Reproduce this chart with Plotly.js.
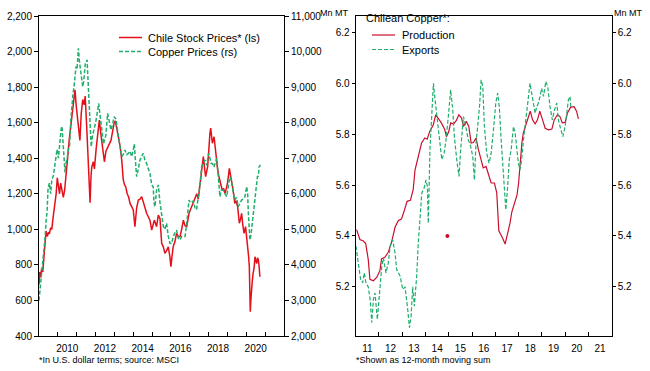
<!DOCTYPE html>
<html>
<head>
<meta charset="utf-8">
<script src="https://cdn.plot.ly/plotly-3.0.1.min.js"></script>
<style>html,body{margin:0;padding:0;background:#fff;}#chart{width:650px;height:371px;}</style>
</head>
<body>
<div id="chart"></div>
<script>
// ---------- Left panel: Chile stock prices (ls) & copper prices (rs) ----------
const stockYears = [2009.00,2009.04,2009.09,2009.14,2009.20,2009.25,2009.32,2009.38,2009.44,2009.50,2009.55,2009.62,2009.68,2009.74,2009.80,2009.86,2009.91,2009.97,
2010.03,2010.09,2010.15,2010.22,2010.29,2010.36,2010.43,2010.50,2010.60,2010.70,2010.79,2010.86,2010.91,2010.97,
2011.05,2011.11,2011.17,2011.24,2011.32,2011.40,2011.45,2011.53,2011.62,2011.67,2011.71,2011.76,2011.80,2011.88,2011.94,
2012.03,2012.11,2012.16,2012.20,2012.29,2012.38,2012.47,2012.55,2012.65,2012.74,2012.82,2012.92,2012.99,
2013.05,2013.12,2013.21,2013.30,2013.39,2013.47,2013.54,2013.60,2013.68,2013.76,2013.83,2013.92,
2014.00,2014.09,2014.18,2014.27,2014.36,2014.45,2014.54,2014.62,2014.71,2014.80,2014.89,2014.98,
2015.06,2015.12,2015.24,2015.33,2015.42,2015.51,2015.60,2015.68,2015.77,2015.86,2015.94,
2016.00,2016.06,2016.12,2016.21,2016.30,2016.39,2016.48,2016.57,2016.66,2016.75,2016.84,2016.96,
2017.10,2017.19,2017.28,2017.37,2017.45,2017.54,2017.63,2017.72,2017.78,2017.84,2017.95,
2018.02,2018.07,2018.11,2018.16,2018.20,2018.29,2018.37,2018.48,2018.54,2018.60,2018.66,2018.72,2018.80,2018.87,2018.94,
2019.00,2019.10,2019.14,2019.19,2019.25,2019.30,2019.39,2019.46,2019.54,2019.63,2019.70,2019.75,2019.82,2019.88,2019.96,
2020.02,2020.07,2020.12,2020.16,2020.21,2020.24,2020.27,2020.31,2020.36,2020.41,2020.46,2020.50,2020.55,2020.60,2020.64,2020.68,2020.72];
const stockPrices = [690,760,730,780,760,850,920,990,960,980,975,1010,1000,1060,1100,1150,1200,1290,
1250,1200,1260,1220,1180,1220,1330,1380,1500,1600,1650,1740,1785,1700,
1615,1560,1500,1650,1730,1700,1750,1580,1350,1280,1150,1300,1350,1380,1340,
1450,1540,1600,1615,1530,1465,1380,1440,1465,1480,1500,1560,1600,
1610,1570,1540,1470,1390,1280,1250,1240,1200,1180,1146,1130,
1110,1015,1120,1165,1170,1184,1150,1127,1090,1071,1050,996,
1030,1052,1015,1080,1060,921,900,865,880,902,850,
790,850,902,930,977,960,958,1000,1052,1020,1015,1090,
1127,1160,1184,1200,1170,1250,1334,1409,1350,1296,1352,
1502,1540,1570,1520,1484,1521,1427,1334,1300,1277,1250,1221,1230,1202,1230,
1259,1343,1320,1277,1250,1221,1146,1160,1127,1034,1060,1090,1020,977,1015,
960,902,850,790,537,600,677,700,752,780,846,830,808,840,827,790,733];

const copperYears = [2009.00,2009.05,2009.10,2009.15,2009.21,2009.27,2009.32,2009.38,2009.43,2009.48,2009.55,2009.62,2009.68,2009.76,2009.84,2009.90,2009.96,
2010.03,2010.11,2010.17,2010.22,2010.27,2010.33,2010.38,2010.43,2010.50,2010.56,2010.62,2010.68,2010.73,2010.80,2010.86,2010.92,2010.96,
2011.02,2011.09,2011.14,2011.20,2011.26,2011.32,2011.38,2011.46,2011.55,2011.60,2011.68,2011.73,2011.77,2011.83,2011.89,2011.96,
2012.03,2012.10,2012.17,2012.23,2012.29,2012.36,2012.42,2012.47,2012.55,2012.64,2012.73,2012.82,2012.92,2012.99,
2013.08,2013.15,2013.22,2013.30,2013.39,2013.47,2013.56,2013.65,2013.74,2013.83,2013.92,
2014.00,2014.06,2014.12,2014.18,2014.27,2014.36,2014.45,2014.53,2014.62,2014.71,2014.80,2014.89,2014.98,
2015.06,2015.10,2015.15,2015.24,2015.33,2015.42,2015.51,2015.60,2015.68,2015.77,2015.86,2015.95,
2016.04,2016.12,2016.21,2016.30,2016.39,2016.48,2016.57,2016.66,2016.75,2016.84,2016.90,2016.96,
2017.03,2017.10,2017.19,2017.28,2017.36,2017.45,2017.54,2017.63,2017.72,2017.81,2017.90,
2018.00,2018.07,2018.13,2018.20,2018.28,2018.37,2018.44,2018.50,2018.56,2018.60,2018.67,2018.78,2018.87,2018.96,
2019.04,2019.13,2019.20,2019.25,2019.32,2019.39,2019.48,2019.57,2019.66,2019.75,2019.84,2019.93,
2020.02,2020.07,2020.11,2020.15,2020.19,2020.25,2020.31,2020.36,2020.41,2020.46,2020.50,2020.55,2020.59,2020.64,2020.68,2020.75];
const copperPrices = [3000,3250,3500,3750,4250,4500,4750,5250,5500,6150,6300,6000,6400,6500,6750,6950,7250,
7000,7500,7800,7900,7500,7000,6600,6870,7000,7250,7330,8000,8450,8800,9010,9400,9575,
9500,10090,9750,9480,9250,9010,9200,9670,9765,9250,8260,7600,7325,7600,7795,7900,
8075,8400,8540,8250,7885,7700,7400,7510,7650,8260,8000,7795,8000,8170,
8100,7900,7600,7325,7045,7100,7230,7100,7135,7200,7045,
7230,7400,6900,6480,6700,6950,7050,7135,6950,6855,6700,6575,6250,
6200,5750,5635,6105,6250,5750,5450,5075,5000,5170,4800,4605,
4600,4790,4900,4980,4750,4700,4800,4790,4800,5170,5600,5825,
5750,5750,5800,5600,5550,5900,6250,6760,6850,6950,6800,
7135,7000,6855,6855,6750,6900,7000,6575,6150,5920,6100,6105,6000,5920,
6200,6480,6400,6200,6000,5825,5900,5635,5750,5825,5850,5920,
6200,6000,5450,5100,4700,4850,5170,5300,5545,5900,6200,6350,6480,6500,6760,6810];

const leftYearLabels = ['2010','2012','2014','2016','2018','2020'];
const leftTickYears = [2010,2011,2012,2013,2014,2015,2016,2017,2018,2019,2020,2021];
const leftSeriesNames = ['Chile Stock Prices* (ls)', 'Copper Prices (rs)'];

// ---------- Right panel: Chilean copper production & exports (12-mo sum, Mn MT) ----------
const prodYears = [2011.04,2011.18,2011.33,2011.43,2011.54,2011.61,2011.76,2011.90,2012.04,2012.11,2012.25,2012.40,2012.54,2012.69,2012.83,2012.97,
2013.04,2013.21,2013.35,2013.47,2013.55,2013.68,2013.83,2013.97,2014.07,2014.18,2014.33,2014.44,2014.54,2014.68,2014.83,2014.90,
2015.00,2015.08,2015.20,2015.32,2015.43,2015.55,2015.63,2015.75,2015.86,2015.96,2016.06,2016.17,2016.27,2016.38,2016.48,2016.60,2016.72,2016.82,2016.96,
2017.06,2017.15,2017.25,2017.32,2017.42,2017.53,2017.63,2017.71,2017.81,2017.93,2018.00,2018.05,2018.14,2018.20,2018.31,2018.43,2018.50,2018.60,2018.71,2018.81,2018.91,
2019.03,2019.14,2019.28,2019.43,2019.53,2019.67,2019.77,2019.88,2020.00,2020.10,2020.24,2020.38,2020.49,2020.57];
const prodValues = [5.425,5.386,5.380,5.370,5.307,5.230,5.224,5.237,5.263,5.310,5.316,5.336,5.375,5.434,5.460,5.467,
5.486,5.536,5.540,5.582,5.660,5.712,5.765,5.785,5.780,5.810,5.836,5.876,5.863,5.844,5.817,5.790,
5.810,5.844,5.840,5.853,5.876,5.863,5.830,5.850,5.830,5.765,5.767,5.785,5.740,5.700,5.667,5.673,5.640,5.608,5.608,
5.570,5.420,5.405,5.390,5.368,5.410,5.450,5.495,5.527,5.560,5.608,5.673,5.765,5.804,5.836,5.870,5.890,5.856,5.840,5.856,5.890,
5.856,5.823,5.817,5.820,5.856,5.876,5.870,5.844,5.846,5.883,5.906,5.908,5.890,5.860];

const expYears = [2011.01,2011.11,2011.21,2011.30,2011.37,2011.44,2011.54,2011.62,2011.69,2011.76,2011.83,2011.93,
2012.02,2012.12,2012.19,2012.30,2012.40,2012.48,2012.59,2012.69,2012.76,2012.91,
2013.02,2013.12,2013.22,2013.31,2013.38,2013.45,2013.52,2013.62,2013.69,2013.77,2013.84,2013.94,
2014.02,2014.08,2014.12,2014.19,2014.27,2014.34,2014.41,2014.48,2014.55,2014.62,2014.70,2014.80,2014.88,2014.98,
2015.08,2015.17,2015.24,2015.34,2015.44,2015.51,2015.63,2015.73,2015.84,2015.94,
2016.03,2016.10,2016.17,2016.24,2016.32,2016.39,2016.46,2016.53,2016.63,2016.73,2016.82,2016.92,
2017.02,2017.10,2017.17,2017.25,2017.32,2017.39,2017.45,2017.53,2017.60,2017.68,2017.78,2017.85,2017.92,2017.99,
2018.06,2018.13,2018.21,2018.28,2018.35,2018.42,2018.49,2018.56,2018.64,2018.71,2018.78,2018.85,2018.92,2018.99,
2019.07,2019.17,2019.25,2019.35,2019.45,2019.54,2019.64,2019.71,2019.78,2019.90,
2020.00,2020.07,2020.14,2020.21,2020.24];
const expValues = [5.360,5.294,5.230,5.216,5.255,5.216,5.200,5.150,5.060,5.150,5.176,5.072,
5.176,5.280,5.314,5.255,5.294,5.360,5.386,5.333,5.268,5.242,
5.190,5.200,5.124,5.040,5.085,5.200,5.124,5.242,5.373,5.477,5.569,5.588,
5.620,5.595,5.450,5.739,5.869,6.000,5.935,5.882,5.817,5.778,5.700,5.725,5.778,5.869,
5.974,5.895,5.790,5.700,5.634,5.739,5.869,5.830,5.778,5.752,
5.712,5.620,5.765,5.830,5.908,6.013,5.987,5.830,5.725,5.686,5.725,5.817,
5.922,5.961,5.908,5.778,5.673,5.569,5.503,5.595,5.700,5.739,5.830,5.804,5.739,5.686,
5.660,5.700,5.778,5.830,5.895,5.935,6.000,5.961,5.908,5.882,5.908,5.922,5.948,5.980,
5.948,6.007,5.987,5.908,5.856,5.895,5.922,5.856,5.830,5.790,
5.830,5.882,5.935,5.948,5.908];

const dotYears = [2014.94];
const dotValues = [5.40];

const rightYearLabels = ['11','12','13','14','15','16','17','18','19','20','21'];
const rightTickYears = [2012,2013,2014,2015,2016,2017,2018,2019,2020,2021];
const rightYTicks = [5.2,5.4,5.6,5.8,6.0,6.2];
const rightLegendTitle = 'Chilean Copper*:';
const rightSeriesNames = ['Production', 'Exports'];

// ---------- build ----------
const FONT = 'Arial, "Liberation Sans", sans-serif';
const RED = '#e3101b', GREEN = '#1fae6c', DRED = '#c8102e';
const DASH = '4px,2px';

const traces = [
  {x: stockYears, y: stockPrices, xaxis:'x', yaxis:'y', type:'scatter', mode:'lines',
   name: leftSeriesNames[0], line:{color:RED, width:1.5}, hoverinfo:'skip'},
  {x: copperYears, y: copperPrices, xaxis:'x', yaxis:'y2', type:'scatter', mode:'lines',
   name: leftSeriesNames[1], line:{color:GREEN, width:1.5, dash:DASH}, hoverinfo:'skip'},
  {x: prodYears, y: prodValues, xaxis:'x2', yaxis:'y3', type:'scatter', mode:'lines',
   name: rightSeriesNames[0], line:{color:DRED, width:1.2}, hoverinfo:'skip'},
  {x: expYears, y: expValues, xaxis:'x2', yaxis:'y4', type:'scatter', mode:'lines',
   name: rightSeriesNames[1], line:{color:GREEN, width:1.2, dash:DASH}, hoverinfo:'skip'},
  {x: dotYears, y: dotValues, xaxis:'x2', yaxis:'y3', type:'scatter', mode:'markers',
   marker:{color:DRED, size:4}, name:'', hoverinfo:'skip'}
];

const H = 371, W = 650;
const yDom = [(H-336)/H, (H-16)/H];
const tickFont = {family:FONT, size:10, color:'#000'};
const px = v => v / W, py = v => 1 - v / H;

function xAxis(domain, range, labels, tickYears, anchor){
  return {domain: domain, range: range, anchor: anchor,
    tickmode:'array', tickvals: labels.map(l => (l.length===2 ? 2000+Number(l) : Number(l)) + 0.5),
    ticktext: labels, ticks:'', ticklabelstandoff: 3,
    showline:true, mirror:true, linecolor:'#000', linewidth:1,
    showgrid:false, zeroline:false, tickfont: tickFont, fixedrange:true,
    minor:{tickmode:'array', tickvals: tickYears, ticks:'inside', ticklen:4, tickcolor:'#000', tickwidth:1, showgrid:false}};
}

// legend built from the trace styles (key line + label)
const legendItems = [
  {trace:0, x0:119, x1:142, y:37.5, tx:146},
  {trace:1, x0:119, x1:142, y:51.5, tx:146},
  {trace:2, x0:372, x1:395, y:35, tx:400},
  {trace:3, x0:372, x1:395, y:49.5, tx:400}
];
const shapes = legendItems.map(it => ({type:'line', xref:'paper', yref:'paper',
  x0:px(it.x0), x1:px(it.x1), y0:py(it.y), y1:py(it.y),
  line:{color:traces[it.trace].line.color, width:traces[it.trace].line.width, dash:traces[it.trace].line.dash || 'solid'}}));
const legendTexts = legendItems.map(it => ({text: traces[it.trace].name, xref:'paper', yref:'paper',
  x:px(it.tx), y:py(it.y), xanchor:'left', yanchor:'middle', showarrow:false,
  font:{family:FONT, size:11, color:'#000'}}));

const layout = {
  width: W, height: H, margin:{l:0, r:0, t:0, b:0},
  paper_bgcolor:'#fff', plot_bgcolor:'#fff',
  font:{family:FONT, size:10, color:'#000'},
  showlegend:false,
  xaxis: xAxis([39/W, 284/W], [2009, 2022], leftYearLabels, leftTickYears, 'y'),
  yaxis: {domain: yDom, anchor:'x', range:[400, 2200], tickmode:'array',
    tickvals:[400,600,800,1000,1200,1400,1600,1800,2000,2200], tickformat:',d',
    ticks:'outside', ticklen:4, tickcolor:'#000', showline:true, mirror:true, linecolor:'#000',
    showgrid:false, zeroline:false, tickfont: tickFont, fixedrange:true},
  yaxis2: {overlaying:'y', side:'right', anchor:'x', range:[2000, 11000], tickmode:'array',
    tickvals:[2000,3000,4000,5000,6000,7000,8000,9000,10000,11000], tickformat:',d',
    ticks:'outside', ticklen:4, tickcolor:'#000', showline:false,
    showgrid:false, zeroline:false, tickfont: tickFont, fixedrange:true},
  xaxis2: xAxis([355.7/W, 611.7/W], [2011, 2022], rightYearLabels, rightTickYears, 'y3'),
  yaxis3: {domain: yDom, anchor:'x2', range:[5.007, 6.264], tickmode:'array', tickvals: rightYTicks,
    tickformat:'.1f', ticks:'outside', ticklen:3, tickcolor:'#000', showline:true, mirror:true, linecolor:'#000',
    showgrid:false, zeroline:false, tickfont: tickFont, fixedrange:true},
  yaxis4: {overlaying:'y3', side:'right', anchor:'x2', range:[5.007, 6.264], tickmode:'array', tickvals: rightYTicks,
    tickformat:'.1f', ticks:'outside', ticklen:3, tickcolor:'#000', showline:false,
    showgrid:false, zeroline:false, tickfont: tickFont, fixedrange:true},
  shapes: shapes,
  annotations: legendTexts.concat([
    {text: rightLegendTitle, xref:'paper', yref:'paper', x:px(364), y:py(18), xanchor:'left', yanchor:'middle',
     showarrow:false, font:{family:FONT, size:11, color:'#000'}},
    {text:'Mn MT', xref:'paper', yref:'paper', x:px(334), y:py(13), xanchor:'center', yanchor:'middle',
     showarrow:false, font:{family:FONT, size:9, color:'#000'}},
    {text:'Mn MT', xref:'paper', yref:'paper', x:px(628), y:py(13), xanchor:'center', yanchor:'middle',
     showarrow:false, font:{family:FONT, size:9, color:'#000'}},
    {text:'*In U.S. dollar terms; source: MSCI', xref:'paper', yref:'paper', x:px(37), y:py(360),
     xanchor:'left', yanchor:'middle', showarrow:false, font:{family:FONT, size:9, color:'#000'}},
    {text:'*Shown as 12-month moving sum', xref:'paper', yref:'paper', x:px(354), y:py(360),
     xanchor:'left', yanchor:'middle', showarrow:false, font:{family:FONT, size:9, color:'#000'}}
  ])
};

Plotly.newPlot('chart', traces, layout, {displayModeBar:false, staticPlot:true});
</script>
</body>
</html>
